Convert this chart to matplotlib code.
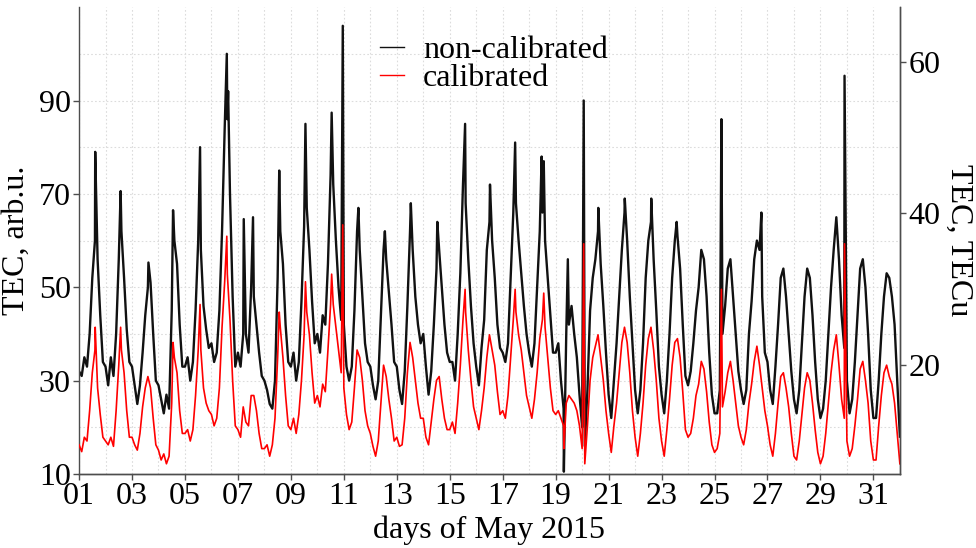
import numpy as np
import matplotlib
matplotlib.use('Agg')
import matplotlib.pyplot as plt
from matplotlib.lines import Line2D

plt.rcParams['font.family'] = ['Liberation Serif', 'DejaVu Serif']

# TEC samples every 0.1 day from 01 May 00:00 to 01 June 00:00
step_days = 0.1

# non-calibrated TEC, arb.u. (left axis), one row per day
tec_raw = [
    32, 31, 35, 33, 40, 52, 60, 56, 44, 34,   # 01
    33, 29, 35, 31, 40, 56, 62, 52, 41, 34,   # 02
    33, 29, 25, 29, 36, 44, 50, 51, 40, 30,   # 03
    29, 26, 23, 27, 24, 45, 60, 55, 42, 33,   # 04
    33, 35, 30, 34, 45, 60, 58, 46, 41, 37,   # 05
    38, 34, 36, 45, 62, 84, 86, 70, 48, 33,   # 06
    36, 33, 40, 40, 36, 50, 48, 42, 36, 31,   # 07
    30, 28, 25, 24, 30, 52, 62, 55, 42, 34,   # 08
    33, 36, 30, 34, 47, 63, 67, 58, 47, 38,   # 09
    40, 36, 44, 42, 55, 74, 72, 60, 50, 43,   # 10
    42, 33, 30, 33, 45, 62, 58, 48, 38, 34,   # 11
    33, 29, 26, 30, 44, 58, 56, 49, 42, 34,   # 12
    33, 28, 25, 32, 46, 62, 58, 48, 42, 38,   # 13
    40, 33, 27, 32, 42, 54, 58, 50, 42, 36,   # 14
    34, 34, 30, 40, 53, 72, 68, 56, 46, 38,   # 15
    33, 29, 37, 43, 58, 64, 60, 52, 42, 37,   # 16
    36, 34, 38, 52, 66, 68, 60, 53, 46, 40,   # 17
    36, 33, 38, 50, 62, 66, 60, 52, 44, 36,   # 18
    36, 38, 30, 24, 40, 42, 46, 40, 35, 27,   # 19
    20, 16, 28, 45, 52, 56, 62, 55, 46, 36,   # 20
    27, 22, 30, 38, 48, 58, 66, 60, 48, 38,   # 21
    28, 23, 28, 38, 52, 60, 64, 56, 45, 33,   # 22
    27, 23, 30, 40, 52, 60, 61, 54, 42, 31,   # 23
    29, 32, 38, 45, 50, 58, 56, 48, 36, 27,   # 24
    23, 23, 28, 40, 46, 54, 56, 48, 40, 32,   # 25
    28, 25, 28, 40, 47, 56, 60, 58, 48, 36,   # 26
    34, 28, 25, 33, 42, 52, 54, 48, 40, 32,   # 27
    26, 23, 28, 38, 48, 54, 52, 44, 34, 26,   # 28
    22, 24, 30, 40, 50, 58, 65, 56, 44, 37,   # 29
    30, 23, 26, 34, 44, 54, 56, 50, 40, 28,   # 30
    22, 22, 30, 40, 48, 53, 52, 48, 42, 30,   # 31
    18,
]

# calibrated TEC, TECu (right axis)
tec_cal = [
    9.5, 8.6, 10.5, 10, 14, 19, 22, 17, 13.5, 10.5,
    10, 9.5, 10.5, 9.3, 14, 20, 22, 19, 14, 10.5,
    10.5, 9.5, 8.8, 11, 14.5, 17, 18.5, 17, 13, 9.5,
    8.8, 7.5, 8.3, 7, 8, 15, 21, 19, 14, 11,
    11, 11.5, 10, 11.5, 16, 22, 22, 17, 15, 14,
    13.5, 12, 13, 17, 25, 31, 32, 26, 18, 12,
    11.5, 10.5, 14.5, 12.5, 12, 16, 16, 14, 11, 9,
    9, 9.5, 8, 9.5, 13, 21, 25, 21, 16, 12,
    11.5, 13, 11, 13.5, 18, 24, 27, 24, 19, 15,
    16, 14.5, 17.5, 16.5, 22, 28, 28, 25, 22, 19,
    17, 13.5, 11.5, 12.5, 17, 22, 21, 18, 14, 12,
    11, 9.3, 8, 10, 15, 20, 18.5, 15.5, 13, 10,
    10.5, 9.3, 9.5, 13, 19, 23, 21, 18, 15, 13,
    13, 10.5, 9.5, 12.5, 15.5, 18, 18.5, 15.5, 13, 11.5,
    11.5, 12.5, 11, 15, 20, 26, 27, 22, 18, 14.5,
    13, 11.5, 14, 17, 21, 24, 22, 20, 16.5, 13.5,
    14, 13, 16, 21, 26, 27, 24, 22, 19, 16,
    14.5, 13, 15.5, 19, 23.5, 26, 25, 21, 17, 14,
    13.5, 14, 13, 12, 15, 16, 15.5, 15, 14, 12,
    9, 7, 12, 18, 21, 22.5, 24, 21, 18, 14,
    11, 8.5, 12, 15, 19, 23, 25, 23, 19, 14,
    10.5, 8, 11, 15, 20, 23.5, 25, 22, 18, 13,
    10, 8, 11.5, 15.5, 20, 23, 23.5, 21, 16.5, 11.5,
    10.5, 11, 13, 16, 17.5, 20.5, 19.5, 16.5, 12.5, 9.5,
    8.5, 9, 11, 14.5, 16.5, 19, 20.5, 18, 15, 12,
    10.5, 9.5, 11.5, 15, 17.5, 20.5, 22.5, 20, 17, 14,
    12, 9.5, 8, 11, 15, 18.5, 19, 17, 14.5, 11,
    8, 7.5, 10, 13.5, 17, 19, 18, 15, 11.5, 8.5,
    7, 8, 11, 15, 19, 22, 24, 20, 15.5, 13,
    10, 8, 9, 12, 15.5, 19.5, 20.5, 18, 15, 10,
    7.5, 7.5, 12, 16, 19, 20, 18.5, 17.5, 15, 11,
    7,
]

# single-sample outliers
raw_spike_days = [1.61, 2.57, 3.62, 4.55, 5.57, 6.58, 6.63, 7.22, 7.57, 8.56,
                  9.55, 10.54, 10.96, 11.55, 12.55, 13.53, 14.53, 15.58, 16.52,
                  17.47, 18.47, 18.55, 19.31, 19.46, 20.06, 20.61, 21.61, 22.61,
                  23.57, 25.26, 26.77, 29.91]
raw_spike_vals = [79, 70.6, 55.3, 66.5, 80, 100, 92, 64.6, 65, 75,
                  85, 87.4, 106, 67, 62, 68, 64, 85, 72,
                  81, 78, 77, 10.5, 56, 90, 67, 69, 69,
                  64, 86, 66, 95.3]
cal_spike_days = [1.61, 2.57, 4.55, 5.57, 6.58, 8.56, 9.55, 10.54, 10.96,
                  15.58, 17.47, 18.55, 19.31, 20.06, 25.26, 29.91]
cal_spike_vals = [25, 25, 23, 28, 37, 27, 31, 32, 38.5,
                  30, 30, 29.5, 9, 36, 30, 36]

day_ticks = list(range(1, 32, 2))
day_labels = ['%02d' % d for d in day_ticks]
left_ticks = [10, 30, 50, 70, 90]
right_ticks = [20, 40, 60]


def with_spikes(days, vals, sp_days, sp_vals):
    tt = np.concatenate([days, sp_days])
    vv = np.concatenate([vals, sp_vals])
    order = np.argsort(tt, kind='stable')
    return tt[order], vv[order]


t = 1 + step_days * np.arange(len(tec_raw))
tRaw, vRaw = with_spikes(t, np.array(tec_raw, float), raw_spike_days, raw_spike_vals)
tCal, vCal = with_spikes(t, np.array(tec_cal, float), cal_spike_days, cal_spike_vals)

fs = 23
spineClr = '#4d4d4d'
gridClr = '#dcdcdc'

fig, ax = plt.subplots(figsize=(9.76, 5.48), dpi=100)
fig.subplots_adjust(left=0.081, right=0.922, bottom=0.135, top=0.987)
ax2 = ax.twinx()

ax.plot(tRaw, vRaw, color='#111111', lw=1.7)
ax2.plot(tCal, vCal, color='#ff0000', lw=1.2)

ax.set_xlim(1, 32)
ax.set_ylim(10, 110)
ax2.set_ylim(5.65, 67.2)

ax.set_xticks(day_ticks)
ax.set_xticklabels(day_labels)
ax.set_xticks(range(2, 32, 2), minor=True)
ax.set_yticks(left_ticks)
ax.set_yticks(range(20, 120, 20), minor=True)
ax2.set_yticks(right_ticks)

ax.grid(True, which='both', color=gridClr, lw=0.8, ls=(0, (1.5, 2)))
ax.set_axisbelow(True)

for a in (ax, ax2):
    a.spines['top'].set_visible(False)
    for s in ('left', 'right', 'bottom'):
        a.spines[s].set_color(spineClr)
        a.spines[s].set_linewidth(1.0)
    a.tick_params(which='major', length=4, width=1, color=spineClr,
                  labelsize=fs, labelcolor='black', pad=2)
    a.tick_params(which='minor', length=0)
ax2.spines['left'].set_visible(False)

ax.set_xlabel('days of May 2015', fontsize=fs, labelpad=3)
ax.set_ylabel('TEC, arb.u.', fontsize=fs, labelpad=6)
ax2.set_ylabel('TEC, TECu', fontsize=fs, rotation=270, labelpad=24)

handles = [Line2D([], [], color='#111111', lw=1.0),
           Line2D([], [], color='#ff0000', lw=1.0)]
ax2.legend(handles, ['non-calibrated', 'calibrated'], loc='upper left',
           bbox_to_anchor=(380 / 976, 1 - 36 / 548), bbox_transform=fig.transFigure,
           frameon=False, fontsize=fs, handlelength=0.75, handletextpad=0.6,
           labelspacing=-0.05, borderpad=0, borderaxespad=0)

fig.savefig('out.png', dpi=100)
plt.close()
